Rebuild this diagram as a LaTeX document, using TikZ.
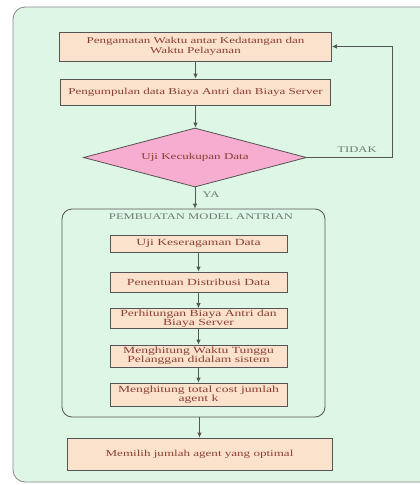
\documentclass[tikz,border=0pt]{standalone}
\usepackage{fontspec}
\setmainfont{Liberation Serif}
\newfontfamily\boxfont[FakeStretch=1.45]{Liberation Serif}
\usetikzlibrary{shapes.geometric,arrows.meta}
\definecolor{mint}{HTML}{DEF6E5}
\definecolor{peach}{HTML}{FBE2CC}
\definecolor{pinkfill}{HTML}{F6ADCF}
\definecolor{edge}{HTML}{555555}
\definecolor{txt}{HTML}{8A3E33}
\definecolor{note}{HTML}{6E7C76}
\tikzset{
  boxtext/.style={font=\boxfont\fontsize{9}{10}\selectfont, text=txt, align=center},
  subtext/.style={font=\boxfont\fontsize{9.4}{9}\selectfont, text=txt, align=center},
  procbox/.style={boxtext, draw=edge, fill=peach, line width=0.8pt, inner sep=0pt},
  subbox/.style={procbox, subtext, minimum width=177pt},
  decision/.style={boxtext, diamond, aspect=3.78, draw=edge, fill=pinkfill, line width=0.8pt, inner sep=0pt},
  group/.style={draw=edge, line width=0.8pt, rounded corners=10pt, inner sep=0pt},
  flow/.style={draw=edge, line width=0.8pt, -{Latex[length=5pt,width=4.5pt]}},
  notetext/.style={font=\boxfont\fontsize{8.7}{9}\selectfont, text=note}
}
\begin{document}
\begin{tikzpicture}[x=1pt,y=-1pt]
\clip (0,0) rectangle (420,485);
\fill[white] (0,0) rectangle (420,485);
% panel
\draw[fill=mint, draw=edge!70, line width=0.8pt, rounded corners=12pt] (13,7) rectangle (445,482);

% main steps
\node[procbox, minimum width=272pt, minimum height=29pt] (obs) at (195.5,46.5)
  {Pengamatan Waktu antar Kedatangan dan\\Waktu Pelayanan};
\node[procbox, minimum width=270pt, minimum height=26pt] (col) at (195.5,92)
  {Pengumpulan data Biaya Antri dan Biaya Server};
\node[decision, minimum width=223pt, minimum height=59pt] (chk) at (195,157.5)
  {Uji Kecukupan Data};

% modelling group
\node[group, minimum width=263pt, minimum height=208pt] (grp) at (193.5,313) {};
\node[notetext] (grpt) at (201,217) {PEMBUATAN MODEL ANTRIAN};
\node[subbox, minimum height=17pt] (s1) at (198.5,243.5)
  {Uji Keseragaman Data};
\node[subbox, minimum height=20pt] (s2) at (198.5,282)
  {Penentuan Distribusi Data};
\node[subbox, minimum height=20pt] (s3) at (198.5,318.5)
  {Perhitungan Biaya Antri dan\\Biaya Server};
\node[subbox, minimum height=22pt] (s4) at (198.5,356)
  {Menghitung Waktu Tunggu\\Pelanggan didalam sistem};
\node[subbox, minimum height=23pt] (s5) at (198.5,394.5)
  {Menghitung total cost jumlah\\agent k};

% final step
\node[procbox, minimum width=265pt, minimum height=32pt] (opt) at (199.5,454)
  {Memilih jumlah agent yang optimal};

% connectors
\draw[flow] (obs.south) -- (obs.south |- col.north);
\draw[flow] (col.south) -- (col.south |- chk.north);
\draw[flow] (chk.south) -- (chk.south |- grp.north);
\node[notetext] (ya) at (211,195) {YA};
\coordinate (loop) at (392,157.5);
\draw[flow] (chk.east) -- (loop) |- (obs.east);
\node[notetext] (tidak) at (357,150) {TIDAK};
\draw[flow] (s1.south) -- (s2.north);
\draw[flow] (s2.south) -- (s3.north);
\draw[flow] (s3.south) -- (s4.north);
\draw[flow] (s4.south) -- (s5.north);
\draw[flow] (opt.north |- grp.south) -- (opt.north);
\end{tikzpicture}
\end{document}
